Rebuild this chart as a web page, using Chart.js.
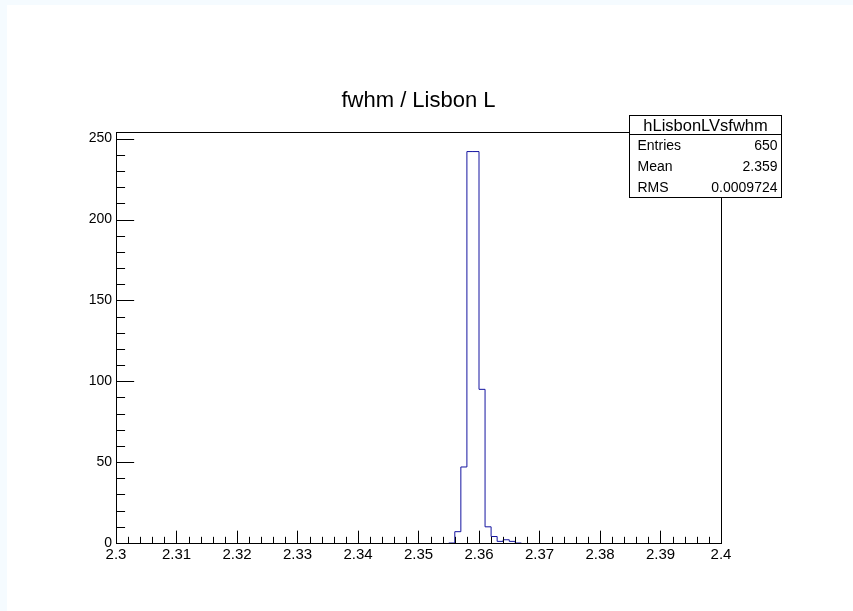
<!DOCTYPE html>
<html>
<head>
<meta charset="utf-8">
<script src="https://cdn.jsdelivr.net/npm/chart.js@4.4.1/dist/chart.umd.min.js"></script>
<style>
  html, body { margin: 0; padding: 0; background: #f5fbff; width: 853px; height: 611px; overflow: hidden; }
  #wrap { position: absolute; left: 7px; top: 5px; width: 846px; height: 606px; background: #ffffff; }
  canvas { display: block; }
</style>
</head>
<body>
<div id="wrap"><canvas id="c" width="846" height="606"></canvas></div>
<script>
// ---- Data ----
const chartTitle = "fwhm / Lisbon L";
const binEdges = [2.355, 2.356, 2.357, 2.358, 2.359, 2.360, 2.361, 2.362, 2.363, 2.364, 2.365, 2.366, 2.367];
const binCounts = [0, 7, 47, 242, 242, 95, 10, 4, 1, 2, 1, 0];
const xRange = [2.3, 2.4];
const yRange = [0, 254.1];
const xMajorStep = 0.01;
const xMinorStep = 0.002;
const yMajorStep = 50;
const yMinorStep = 10;
const statsTitle = "hLisbonLVsfwhm";
const statsLabels = ["Entries", "Mean", "RMS"];
const statsValues = ["650", "2.359", "0.0009724"];

// Build stepped outline points from bin edges / counts
const histPoints = binEdges.map((e, i) => ({ x: e, y: binCounts[Math.min(i, binCounts.length - 1)] }));

const FONT = "'Liberation Sans', Arial, Helvetica, sans-serif";
Chart.defaults.font.family = FONT;
Chart.defaults.color = '#000';

const rootPlugin = {
  id: 'rootStyle',
  afterDatasetsDraw(chart) {
    const ctx = chart.ctx, a = chart.chartArea;
    const xs = chart.scales.x, ys = chart.scales.y;
    ctx.save();
    ctx.strokeStyle = '#000';
    ctx.lineWidth = 1;
    // frame
    ctx.strokeRect(Math.round(a.left) + 0.5, Math.round(a.top) + 0.5, Math.round(a.right - a.left), Math.round(a.bottom - a.top));
    const H = a.bottom - a.top, W = a.right - a.left;
    const xMaj = 0.03 * H, yMaj = 0.03 * W;
    ctx.beginPath();
    // x ticks
    const nx = Math.round((xRange[1] - xRange[0]) / xMinorStep);
    const ratioX = Math.round(xMajorStep / xMinorStep);
    for (let i = 0; i <= nx; i++) {
      const v = xRange[0] + i * xMinorStep;
      const px = Math.round(xs.getPixelForValue(v)) + 0.5;
      const len = (i % ratioX === 0) ? xMaj : xMaj / 2;
      ctx.moveTo(px, a.bottom);
      ctx.lineTo(px, a.bottom - len);
    }
    // y ticks
    const ny = Math.floor((yRange[1] - yRange[0]) / yMinorStep);
    const ratioY = Math.round(yMajorStep / yMinorStep);
    for (let i = 0; i <= ny; i++) {
      const v = yRange[0] + i * yMinorStep;
      const py = Math.round(ys.getPixelForValue(v)) + 0.5;
      const len = (i % ratioY === 0) ? yMaj : yMaj / 2;
      ctx.moveTo(a.left, py);
      ctx.lineTo(a.left + len, py);
    }
    ctx.stroke();

    // title
    ctx.fillStyle = '#000';
    ctx.font = '22px ' + FONT;
    ctx.textAlign = 'center';
    ctx.textBaseline = 'alphabetic';
    ctx.fillText(chartTitle, (a.left + a.right) / 2, 102);

    // stats box
    const bx = 622.5, by = 110.5, bw = 152, bh = 82;
    const titleH = 19;
    ctx.fillStyle = '#fff';
    ctx.fillRect(bx, by, bw, bh);
    ctx.strokeRect(bx, by, bw, bh);
    ctx.beginPath();
    ctx.moveTo(bx, by + titleH);
    ctx.lineTo(bx + bw, by + titleH);
    ctx.stroke();
    ctx.fillStyle = '#000';
    ctx.font = '16.5px ' + FONT;
    ctx.textAlign = 'center';
    ctx.textBaseline = 'middle';
    ctx.fillText(statsTitle, bx + bw / 2, by + titleH / 2 + 1);
    const rowH = (bh - titleH) / statsLabels.length;
    ctx.font = '14px ' + FONT;
    statsLabels.forEach((lab, i) => {
      const cy = by + titleH + rowH * (i + 0.5) + 1;
      ctx.textAlign = 'left';
      ctx.fillText(lab, bx + 8, cy);
      ctx.textAlign = 'right';
      ctx.fillText(statsValues[i], bx + bw - 4, cy);
    });
    ctx.restore();
  }
};

new Chart(document.getElementById('c'), {
  type: 'line',
  data: {
    datasets: [{
      data: histPoints,
      stepped: 'before',
      borderColor: 'rgb(20,20,160)',
      borderWidth: 1,
      pointRadius: 0,
      fill: false,
      tension: 0
    }]
  },
  options: {
    responsive: false,
    animation: false,
    events: [],
    layout: { padding: { left: 0, right: 132, top: 127, bottom: 0 } },
    plugins: { legend: { display: false }, tooltip: { enabled: false }, title: { display: false } },
    scales: {
      x: {
        type: 'linear',
        min: xRange[0], max: xRange[1],
        grid: { display: false, drawTicks: false },
        border: { display: false },
        ticks: {
          stepSize: xMajorStep,
          autoSkip: false,
          maxRotation: 0,
          includeBounds: false,
          padding: 3,
          font: { size: 15 },
          color: '#000',
          callback: (v) => String(parseFloat(Number(v).toFixed(3)))
        },
        afterFit(scale) { scale.height = 68; }
      },
      y: {
        min: yRange[0], max: yRange[1],
        grid: { display: false, drawTicks: false },
        border: { display: false },
        ticks: {
          stepSize: yMajorStep,
          includeBounds: false,
          padding: 4,
          font: { size: 14 },
          color: '#000'
        },
        afterFit(scale) { scale.width = 109; }
      }
    }
  },
  plugins: [rootPlugin]
});
</script>
</body>
</html>
